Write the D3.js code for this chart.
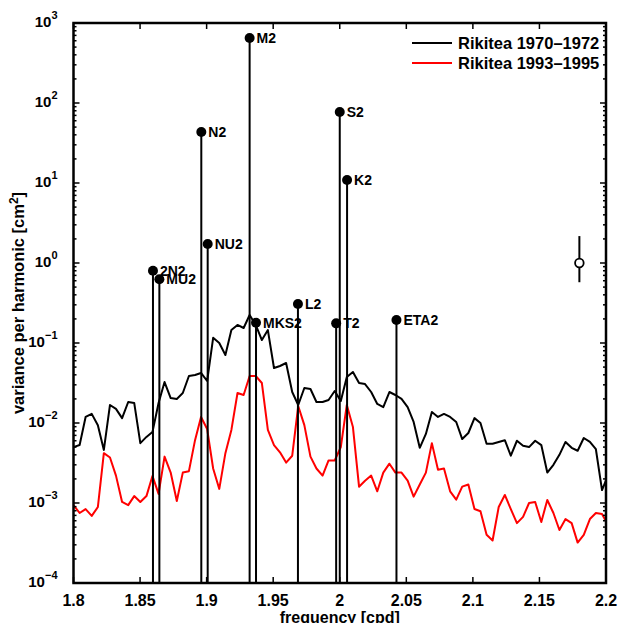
<!DOCTYPE html>
<html>
<head>
<meta charset="utf-8">
<script src="https://cdn.jsdelivr.net/npm/d3@7"></script>
<style>
  body { margin: 0; background: #fff; }
  text { font-family: "Liberation Sans", Arial, sans-serif; font-weight: bold; }
</style>
</head>
<body>
<div id="chart"></div>
<script>
// band-averaged frequencies [cpd]
const freq = [1.8000, 1.8046, 1.8091, 1.8137, 1.8183, 1.8228, 1.8274, 1.8319, 1.8365, 1.8411,
  1.8456, 1.8502, 1.8548, 1.8593, 1.8639, 1.8684, 1.8730, 1.8776, 1.8821, 1.8867,
  1.8913, 1.8958, 1.9004, 1.9049, 1.9095, 1.9141, 1.9186, 1.9232, 1.9278, 1.9323,
  1.9369, 1.9415, 1.9460, 1.9506, 1.9551, 1.9597, 1.9643, 1.9688, 1.9734, 1.9780,
  1.9825, 1.9871, 1.9916, 1.9962, 2.0008, 2.0053, 2.0099, 2.0145, 2.0190, 2.0236,
  2.0282, 2.0327, 2.0373, 2.0418, 2.0464, 2.0510, 2.0555, 2.0601, 2.0647, 2.0692,
  2.0738, 2.0783, 2.0829, 2.0875, 2.0920, 2.0966, 2.1012, 2.1057, 2.1103, 2.1148,
  2.1194, 2.1240, 2.1285, 2.1331, 2.1377, 2.1422, 2.1468, 2.1514, 2.1559, 2.1605,
  2.1650, 2.1696, 2.1742, 2.1787, 2.1833, 2.1879, 2.1924, 2.1970, 2.2015];

// Rikitea 1970-1972 residual spectrum [cm^2]
const rik70 = [0.0050, 0.0053, 0.0119, 0.0130, 0.0094, 0.0046, 0.0168, 0.0150, 0.0115, 0.0183,
  0.0178, 0.0056, 0.0067, 0.0077, 0.0178, 0.0325, 0.0205, 0.0200, 0.0237, 0.0387,
  0.0398, 0.0422, 0.0335, 0.116, 0.100, 0.0708, 0.145, 0.168, 0.154, 0.224,
  0.168, 0.109, 0.145, 0.0487, 0.0516, 0.0562, 0.0244, 0.0168, 0.0274, 0.0266,
  0.0183, 0.0183, 0.0194, 0.0251, 0.0188, 0.0376, 0.0434, 0.0316, 0.0307, 0.0244,
  0.0173, 0.0158, 0.0244, 0.0224, 0.0200, 0.0158, 0.0103, 0.0049, 0.0073, 0.0137,
  0.0119, 0.0130, 0.0119, 0.0103, 0.0063, 0.0075, 0.0115, 0.0100, 0.0055, 0.0055,
  0.0058, 0.0061, 0.0039, 0.0060, 0.0052, 0.0050, 0.0060, 0.0053, 0.0024, 0.0030,
  0.0040, 0.0058, 0.0049, 0.0045, 0.0065, 0.0058, 0.0047, 0.00145, 0.0022];

// Rikitea 1993-1995 residual spectrum [cm^2]
const rik93 = [0.00094, 0.00075, 0.00084, 0.00069, 0.00089, 0.0042, 0.0037, 0.0022, 0.00103, 0.00094,
  0.00122, 0.00103, 0.00122, 0.00218, 0.0013, 0.0038, 0.0024, 0.00106, 0.0024, 0.0025,
  0.0061, 0.0119, 0.0084, 0.0027, 0.0015, 0.0042, 0.0082, 0.0237, 0.0224, 0.0387,
  0.0387, 0.0316, 0.0082, 0.0053, 0.0043, 0.0032, 0.0039, 0.0163, 0.0094, 0.0038,
  0.0027, 0.0022, 0.0034, 0.0034, 0.0050, 0.0168, 0.0089, 0.0016, 0.0019, 0.0022,
  0.0014, 0.0024, 0.0031, 0.0024, 0.0024, 0.0019, 0.0012, 0.0017, 0.0024, 0.0056,
  0.0026, 0.0027, 0.0014, 0.0011, 0.0016, 0.0017, 0.00084, 0.00079, 0.00040, 0.00034,
  0.00089, 0.00126, 0.00084, 0.00056, 0.00067, 0.0010, 0.00103, 0.00058, 0.00109, 0.00075,
  0.00046, 0.00063, 0.00056, 0.00032, 0.00040, 0.00063, 0.00075, 0.00073, 0.00053];

// tidal constituents: name, frequency [cpd], variance [cm^2]
const tideNames = ["2N2", "MU2", "N2", "NU2", "M2", "MKS2", "L2", "T2", "S2", "K2", "ETA2"];
const tideFreq = [1.8597, 1.8645, 1.8960, 1.9008, 1.9323, 1.9371, 1.9686, 1.9973, 2.0000, 2.0055, 2.0426];
const tideVar = [0.80, 0.625, 43.4, 1.73, 649, 0.179, 0.307, 0.176, 77.2, 10.9, 0.194];

// confidence bar
const errFreq = 2.18;
const errMid = 1.0;
const errLo = 0.575;
const errHi = 2.17;

const xTicks = [1.8, 1.85, 1.9, 1.95, 2, 2.05, 2.1, 2.15, 2.2];
const yExps = [-4, -3, -2, -1, 0, 1, 2, 3];

const seriesNames = ["Rikitea 1970\u20131972", "Rikitea 1993\u20131995"];
const seriesColors = ["#000000", "#ff0000"];

const W = 628, H = 623;
const margin = { top: 23, right: 22, bottom: 40, left: 73.5 };
const width = W - margin.left - margin.right;
const height = H - margin.top - margin.bottom;

var svg = d3.select("#chart")
    .append("svg")
    .attr("width", W)
    .attr("height", H)
    .append("g")
    .attr("transform", `translate(${margin.left}, ${margin.top})`);

var x = d3.scaleLinear()
    .domain([1.8, 2.2])
    .range([0, width]);

var y = d3.scaleLog()
    .domain([1e-4, 1e3])
    .range([height, 0]);

svg.append("defs").append("clipPath")
    .attr("id", "clip")
    .append("rect")
    .attr("width", width)
    .attr("height", height);

// spectra
var line = d3.line()
    .x(function (d, i) { return x(freq[i]); })
    .y(function (d) { return y(d); });

var plot = svg.append("g").attr("clip-path", "url(#clip)");

plot.append("path")
    .datum(rik70)
    .attr("fill", "none")
    .attr("stroke", seriesColors[0])
    .attr("stroke-width", 2)
    .attr("stroke-linejoin", "round")
    .attr("d", line);

plot.append("path")
    .datum(rik93)
    .attr("fill", "none")
    .attr("stroke", seriesColors[1])
    .attr("stroke-width", 2)
    .attr("stroke-linejoin", "round")
    .attr("d", line);

// constituent stems
var tides = tideNames.map((n, i) => ({ name: n, f: tideFreq[i], v: tideVar[i] }));

plot.selectAll(".stem")
    .data(tides)
    .enter().append("line")
    .attr("class", "stem")
    .attr("x1", d => x(d.f))
    .attr("x2", d => x(d.f))
    .attr("y1", d => y(d.v))
    .attr("y2", height)
    .attr("stroke", "black")
    .attr("stroke-width", 2);

svg.selectAll(".dot")
    .data(tides)
    .enter().append("circle")
    .attr("class", "dot")
    .attr("cx", d => x(d.f))
    .attr("cy", d => y(d.v))
    .attr("r", 5)
    .attr("fill", "black");

svg.selectAll(".tlabel")
    .data(tides)
    .enter().append("text")
    .attr("class", "tlabel")
    .attr("x", d => x(d.f) + 7)
    .attr("y", d => y(d.v) + 5)
    .attr("font-size", 14)
    .text(d => d.name);

// error bar
svg.append("line")
    .attr("x1", x(errFreq))
    .attr("x2", x(errFreq))
    .attr("y1", y(errHi))
    .attr("y2", y(errLo))
    .attr("stroke", "black")
    .attr("stroke-width", 2);

svg.append("circle")
    .attr("cx", x(errFreq))
    .attr("cy", y(errMid))
    .attr("r", 4.3)
    .attr("fill", "white")
    .attr("stroke", "black")
    .attr("stroke-width", 1.8);

// axes: ticks pointing inward on all four sides
var minor = [];
for (var e = -4; e < 3; e++) {
    for (var m = 2; m < 10; m++) minor.push(m * Math.pow(10, e));
}

function yTicks(g, dir) {
    g.selectAll(".maj").data(yExps).enter().append("line")
        .attr("x1", 0).attr("x2", dir * 6)
        .attr("y1", d => y(Math.pow(10, d))).attr("y2", d => y(Math.pow(10, d)))
        .attr("stroke", "black").attr("stroke-width", 1.5);
    g.selectAll(".min").data(minor).enter().append("line")
        .attr("x1", 0).attr("x2", dir * 3)
        .attr("y1", d => y(d)).attr("y2", d => y(d))
        .attr("stroke", "black").attr("stroke-width", 1.5);
}

function xTickMarks(g, dir) {
    g.selectAll(".maj").data(xTicks).enter().append("line")
        .attr("x1", d => x(d)).attr("x2", d => x(d))
        .attr("y1", 0).attr("y2", dir * 6)
        .attr("stroke", "black").attr("stroke-width", 1.5);
}

yTicks(svg.append("g"), 1);
yTicks(svg.append("g").attr("transform", `translate(${width},0)`), -1);
xTickMarks(svg.append("g").attr("transform", `translate(0,${height})`), -1);
xTickMarks(svg.append("g"), 1);

svg.append("rect")
    .attr("width", width)
    .attr("height", height)
    .attr("fill", "none")
    .attr("stroke", "black")
    .attr("stroke-width", 2.5);

// tick labels
svg.selectAll(".xl")
    .data(xTicks)
    .enter().append("text")
    .attr("x", d => x(d))
    .attr("y", height + 23)
    .attr("text-anchor", "middle")
    .attr("font-size", 16)
    .text(d => d3.format("~g")(d));

var yl = svg.selectAll(".yl")
    .data(yExps)
    .enter().append("text")
    .attr("x", -16)
    .attr("y", d => y(Math.pow(10, d)) + 4)
    .attr("text-anchor", "end")
    .attr("font-size", 15);
yl.append("tspan").text("10");
yl.append("tspan")
    .attr("dy", -8)
    .attr("font-size", 11)
    .text(d => String(d).replace("-", "\u2212"));

// axis titles
svg.append("text")
    .attr("x", width / 2)
    .attr("y", height + 40)
    .attr("text-anchor", "middle")
    .attr("font-size", 16)
    .text("frequency [cpd]");

var yt = svg.append("text")
    .attr("transform", `translate(${-49.5},${height / 2}) rotate(-90)`)
    .attr("text-anchor", "middle")
    .attr("font-size", 16.5);
yt.append("tspan").text("variance per harmonic [cm");
yt.append("tspan").attr("dy", -6).attr("font-size", 12).text("2");
yt.append("tspan").attr("dy", 6).text("]");

// legend
var legend = svg.append("g")
    .attr("transform", `translate(${412 - margin.left},${43 - margin.top})`);

seriesNames.forEach(function (name, i) {
    legend.append("line")
        .attr("x1", 0).attr("x2", 40)
        .attr("y1", i * 20).attr("y2", i * 20)
        .attr("stroke", seriesColors[i])
        .attr("stroke-width", 2);
    legend.append("text")
        .attr("x", 46)
        .attr("y", i * 20 + 5.5)
        .attr("font-size", 16.5)
        .text(name);
});
</script>
</body>
</html>
